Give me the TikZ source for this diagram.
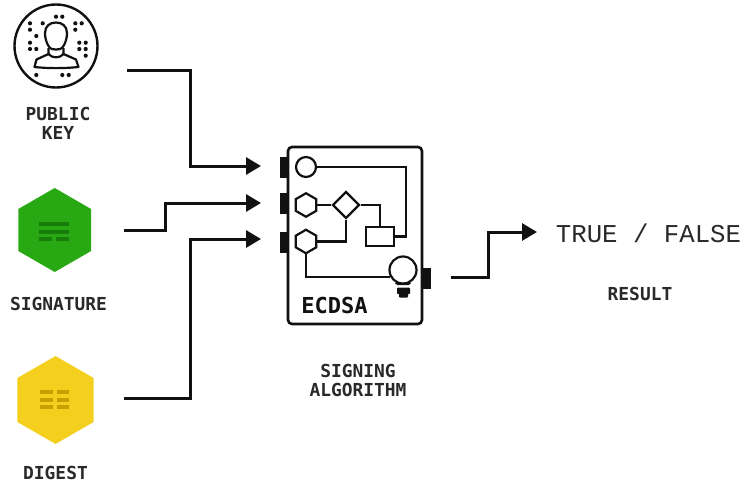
\documentclass[tikz,border=0pt]{standalone}
\usepackage{fontspec}
\setmonofont{Liberation Mono}
\newfontfamily\labelfont{DejaVu Sans Mono}
\usetikzlibrary{arrows.meta,shapes.geometric}
\definecolor{sigGreen}{HTML}{28A812}
\definecolor{sigBar}{HTML}{187C0A}
\definecolor{digYellow}{HTML}{F5CF1E}
\definecolor{digBar}{HTML}{C4A000}
\definecolor{inkBlack}{HTML}{111111}
\tikzset{
  flow/.style={draw=inkBlack, line width=3pt, -{Triangle[length=15pt,width=17pt]}},
  wire/.style={draw=inkBlack, line width=2.2pt},
  port/.style={fill=inkBlack, inner sep=0pt, minimum width=9pt, minimum height=21pt},
  hexa/.style={regular polygon, regular polygon sides=6, shape border rotate=30, inner sep=0pt, outer sep=0pt},
  caption/.style={font=\labelfont\bfseries\fontsize{17.9}{19}\selectfont, text=inkBlack!90, align=center, inner sep=0pt},
  dot/.style={fill=inkBlack, circle, inner sep=0pt, minimum size=4.2pt}
}
\begin{document}
\begin{tikzpicture}[x=1pt,y=-1pt]
\useasboundingbox (0,0) rectangle (742,485);
% public key icon
\node[circle, draw=inkBlack, line width=2.4pt, minimum size=83pt, inner sep=0pt] (pubkey) at (56,46) {};
\foreach \dx/\dy in {56/16.7,62.3/16.7,30/23.3,42.7/23.3,75.3/23.3,81.7/23.3,30/29.7,75.3/29.7,36.3/36,30/42.7,79.3/42.7,85.7/42.7,30/49,36.3/49,79.3/49,85.7/49,85.7/55.7,36.3/75,62.3/75,68.7/75}
  \node[dot] at (\dx,\dy) {};
\draw[inkBlack, line width=2.2pt] (50,48) .. controls (46.5,44) and (45,38) .. (45,33) .. controls (45,26) and (50,22.5) .. (56,22.5) .. controls (62,22.5) and (67,26) .. (67,33) .. controls (67,38) and (65.5,44) .. (62,48) .. controls (60,50) and (52,50) .. (50,48);
\draw[inkBlack, line width=2.2pt, line join=round] (48.5,48) -- (48.5,54) -- (36.5,59.5) -- (34.5,67) .. controls (48,68.5) and (64,68.5) .. (78.5,67) -- (76,59.5) -- (63.5,54) -- (63.5,48);
\draw[inkBlack, line width=2.2pt] (48.5,54) .. controls (52,58.5) and (60,58.5) .. (63.5,54);
\node[caption] (pubkeytxt) at (58,123.5) {PUBLIC\\KEY};
% signature
\node[hexa, fill=sigGreen, minimum size=84pt] (sig) at (54.7,230) {};
\foreach \ypos in {224.3,232}
  \draw[sigBar, line width=3.8pt] (38.7,\ypos) -- (69.3,\ypos);
\draw[sigBar, line width=3.8pt] (38.7,239.3) -- (51.7,239.3) (56,239.3) -- (69.3,239.3);
\node[caption] (sigtxt) at (58.5,304) {SIGNATURE};
% digest
\node[hexa, fill=digYellow, minimum size=88pt] (dig) at (55.5,400) {};
\foreach \ypos in {392,399.7,407.3}
  \draw[digBar, line width=3.8pt] (40,\ypos) -- (52.7,\ypos) (56.7,\ypos) -- (69.3,\ypos);
\node[caption] (digtxt) at (55.5,473) {DIGEST};
% algorithm box
\node[port] (porta) at (284,167.5) {};
\node[port] (portb) at (284,203.5) {};
\node[port] (portc) at (284,242) {};
\node[port] (portd) at (426.5,278) {};
\node[draw=inkBlack, line width=2.6pt, rounded corners=4pt, fill=white, minimum width=134pt, minimum height=177pt, inner sep=0pt] (algo) at (355,235.5) {};
\node[circle, draw=inkBlack, line width=2.2pt, minimum size=20pt, inner sep=0pt] (incirc) at (306,167) {};
\node[hexa, draw=inkBlack, line width=2.2pt, minimum size=23.5pt] (hexb) at (306,205) {};
\node[hexa, draw=inkBlack, line width=2.2pt, minimum size=23.5pt] (hexc) at (306,241.5) {};
\node[diamond, draw=inkBlack, line width=2.2pt, minimum size=27pt, inner sep=0pt] (cond) at (346,205) {};
\node[draw=inkBlack, line width=2.2pt, minimum width=28pt, minimum height=19pt, inner sep=0pt] (stepbox) at (380,236.5) {};
\node[circle, draw=inkBlack, line width=2.2pt, minimum size=27pt, inner sep=0pt] (bulb) at (403,270) {};
\draw[wire] (bulb.240) -- (398,284) -- (408,284) -- (bulb.300);
\fill[inkBlack, rounded corners=1pt] (397,287.5) rectangle (410,294);
\fill[inkBlack, rounded corners=1pt] (399,293) rectangle (408,297.5);
\coordinate (wirea) at (406,167);
\coordinate (wireb) at (380,205);
\coordinate (wirec) at (346,241.5);
\draw[wire] (incirc.east) -- (wirea) |- (stepbox.east);
\draw[wire] (hexb.0) -- (cond.west);
\draw[wire] (cond.east) -- (wireb) -- (stepbox.north);
\draw[wire] (hexc.0) -- (wirec) -- (cond.south);
\draw[wire] (hexc.270) |- (bulb.210);
\node[font=\labelfont\bfseries\fontsize{22}{22}\selectfont, text=inkBlack, inner sep=0pt] (algoname) at (334.5,305.5) {ECDSA};
\node[caption] (algotxt) at (358,380.5) {SIGNING\\ALGORITHM};
% inputs
\coordinate (pubout) at (127,70);
\coordinate (pubbend) at (190,70);
\coordinate (pubin) at (261,166);
\draw[flow] (pubout) -- (pubbend) |- (pubin);
\coordinate (sigout) at (124,230);
\coordinate (sigbend) at (165,230);
\coordinate (sigin) at (261,203);
\draw[flow] (sigout) -- (sigbend) |- (sigin);
\coordinate (digout) at (124,398);
\coordinate (digbend) at (190,398);
\coordinate (digin) at (261,239);
\draw[flow] (digout) -- (digbend) |- (digin);
% result
\coordinate (resout) at (451,277);
\coordinate (resbend) at (488,277);
\coordinate (resin) at (537,232);
\draw[flow] (resout) -- (resbend) |- (resin);
\node[font=\ttfamily\fontsize{25.7}{26}\selectfont, text=inkBlack!90, inner sep=0pt] (truefalse) at (648.5,233) {TRUE / FALSE};
\node[caption] (restxt) at (640,294) {RESULT};
\end{tikzpicture}
\end{document}
